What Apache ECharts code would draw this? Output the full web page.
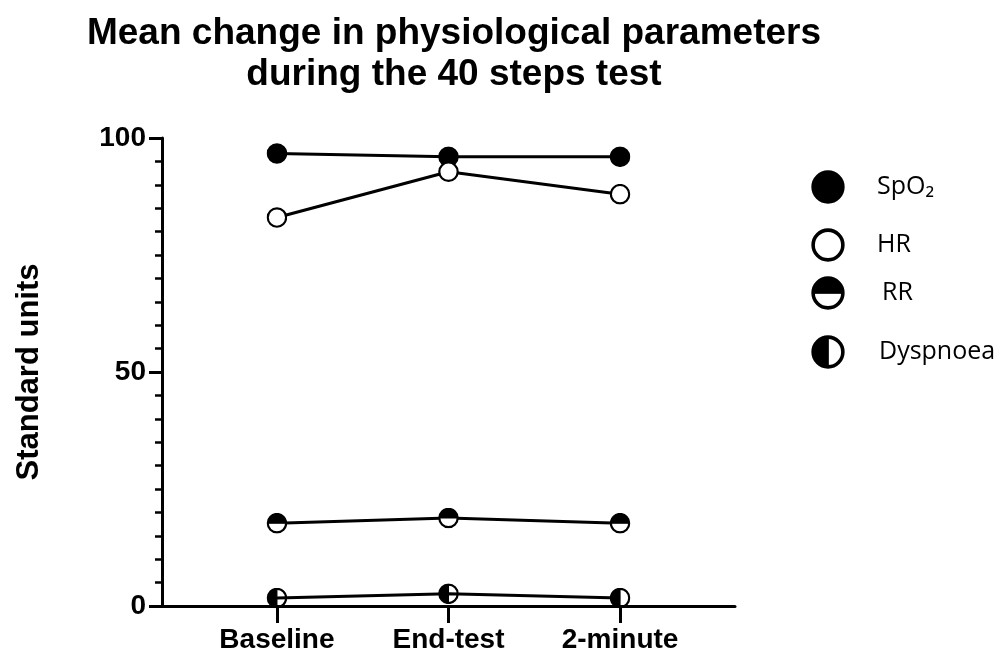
<!DOCTYPE html>
<html>
<head>
<meta charset="utf-8">
<title>Mean change in physiological parameters</title>
<script src="https://cdn.jsdelivr.net/npm/echarts@6/dist/echarts.min.js"></script>
<style>
  html, body { margin: 0; padding: 0; background: #fff; }
  #chart { width: 999px; height: 657px; }
</style>
</head>
<body>
<div id="chart"></div>
<script>
// Time points of the test
const categories = ['Baseline', 'End-test', '2-minute'];

// Mean values (standard units) at each time point
const spo2 = [96.7, 96.0, 96.0];
const hr = [83.0, 92.8, 88.0];
const rr = [17.7, 18.8, 17.7];
const dyspnoea = [1.7, 2.6, 1.7];

const seriesNames = ['SpO\u2082', 'HR', 'RR', 'Dyspnoea'];
const yTicks = [0, 50, 100];

// Circle markers as small SVG images: filled, open, top-half and left-half filled
function svgIcon(body) {
  const svg = '<svg xmlns="http://www.w3.org/2000/svg" width="40" height="40" viewBox="0 0 40 40">' + body + '</svg>';
  return 'image://data:image/svg+xml;charset=utf-8,' + encodeURIComponent(svg);
}
const R = 17.5, SW = 4.2;
const ring = '<circle cx="20" cy="20" r="' + R + '" fill="none" stroke="#000" stroke-width="' + SW + '"/>';
const icons = [
  svgIcon('<circle cx="20" cy="20" r="' + R + '" fill="#000" stroke="#000" stroke-width="' + SW + '"/>'),
  svgIcon('<circle cx="20" cy="20" r="' + R + '" fill="#fff"/>' + ring),
  svgIcon('<circle cx="20" cy="20" r="' + R + '" fill="#fff"/>' +
          '<path d="M2.5 20 A17.5 17.5 0 0 1 37.5 20 Z" fill="#000"/>' + ring +
          '<line x1="2.5" y1="20" x2="37.5" y2="20" stroke="#000" stroke-width="2"/>'),
  svgIcon('<path d="M20 2.5 A17.5 17.5 0 0 0 20 37.5 Z" fill="#000"/>' + ring +
          '<line x1="20" y1="2.5" x2="20" y2="37.5" stroke="#000" stroke-width="2"/>')
];

const values = [spo2, hr, rr, dyspnoea];

const chart = echarts.init(document.getElementById('chart'), null, { renderer: 'canvas' });

const legendTops = [165, 223, 271, 330];
const legendTextPad = [27, 27, 32, 29];

chart.setOption({
  animation: false,
  backgroundColor: '#fff',
  title: {
    text: 'Mean change in physiological parameters\nduring the 40 steps test',
    left: 449,
    top: 8,
    textAlign: 'center',
    textStyle: {
      fontFamily: 'Liberation Sans',
      fontWeight: 'bold',
      fontSize: 37,
      lineHeight: 41,
      color: '#000'
    }
  },
  legend: seriesNames.map((n, i) => ({
    data: [n],
    orient: 'vertical',
    left: 806,
    top: legendTops[i],
    icon: icons[i],
    itemWidth: 34,
    itemHeight: 34,
    selectedMode: false,
    textStyle: {
      fontFamily: 'Open Sans',
      fontSize: 25,
      color: '#000',
      padding: [0, 0, 0, legendTextPad[i]]
    }
  })),
  grid: { left: 162, right: 264, top: 138, bottom: 51 },
  xAxis: {
    type: 'value',
    min: -0.67,
    max: 2.67,
    splitLine: { show: false },
    axisLine: { show: true, lineStyle: { color: '#000', width: 3 } },
    axisTick: {
      show: true,
      customValues: [0, 1, 2],
      length: 17,
      lineStyle: { color: '#000', width: 3 }
    },
    axisLabel: {
      customValues: [0, 1, 2],
      formatter: v => categories[Math.round(v)],
      margin: 20,
      color: '#000',
      fontFamily: 'Liberation Sans',
      fontWeight: 'bold',
      fontSize: 28
    }
  },
  yAxis: {
    type: 'value',
    min: yTicks[0],
    max: yTicks[yTicks.length - 1],
    interval: 50,
    name: 'Standard units',
    nameLocation: 'middle',
    nameGap: 117,
    nameTextStyle: {
      fontFamily: 'Liberation Sans',
      fontWeight: 'bold',
      fontSize: 31,
      color: '#000'
    },
    splitLine: { show: false },
    axisLine: { show: true, onZero: false, lineStyle: { color: '#000', width: 3 } },
    axisTick: { show: true, length: 13, lineStyle: { color: '#000', width: 3 } },
    minorTick: { show: true, splitNumber: 10, length: 7, lineStyle: { color: '#000', width: 2.5 } },
    axisLabel: {
      margin: 16,
      color: '#000',
      fontFamily: 'Liberation Sans',
      fontWeight: 'bold',
      fontSize: 28
    }
  },
  series: seriesNames.map((n, i) => ({
    name: n,
    type: 'line',
    data: values[i].map((v, j) => [j, v]),
    symbol: icons[i],
    symbolSize: 21,
    lineStyle: { color: '#000', width: 3 },
    itemStyle: { color: '#000' },
    z: 2 + i
  }))
});
</script>
</body>
</html>
